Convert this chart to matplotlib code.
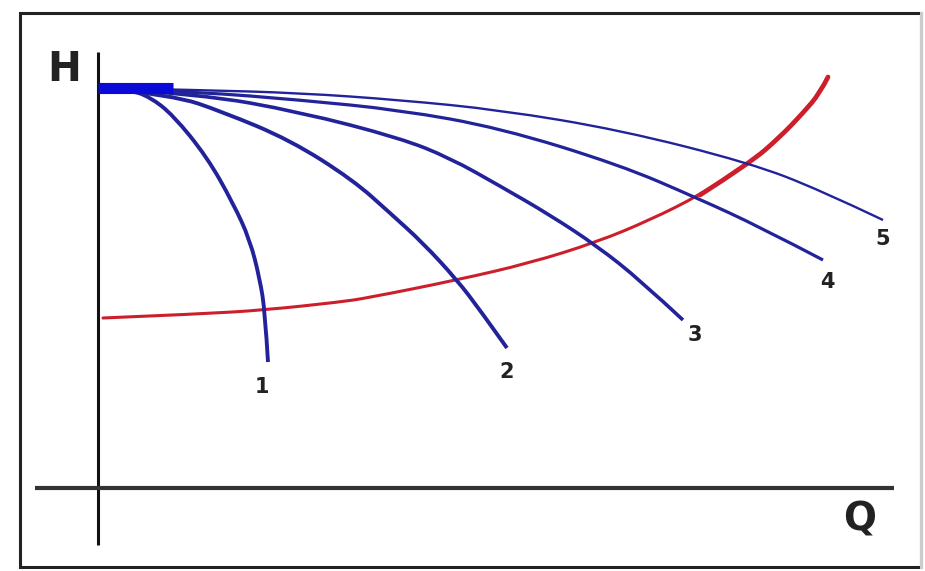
"""
Pump H-Q curves at five speeds crossing a system curve -> out.png
"""

import matplotlib
matplotlib.use("Agg")
import matplotlib.pyplot as plt
import matplotlib.patches as mpatches
from matplotlib.path import Path

BLUE = "#22229a"
BAR_BLUE = "#0a0ad8"
RED = "#cc1f2b"

# pump curves (Q, H)
Q1 = [2, 32, 52, 75, 109, 135, 152, 162, 167, 170]
H1 = [400, 398, 391, 373, 331, 285, 248, 208, 176, 126]
Q2 = [2, 75, 125, 192, 255, 292, 325, 359, 382, 409]
H2 = [400, 393, 376, 348, 308, 275, 245, 208, 178, 140]
Q3 = [2, 102, 202, 302, 352, 402, 452, 499, 542, 585]
H3 = [400, 394, 376, 350, 330, 302, 273, 242, 208, 168]
Q4 = [2, 102, 202, 302, 402, 522, 599, 662, 725]
H4 = [400, 396, 388, 378, 360, 323, 290, 261, 228]
Q5 = [2, 102, 202, 302, 402, 522, 652, 722, 785]
H5 = [400, 398, 395, 388, 378, 358, 325, 298, 268]

# system curve
Q_SYS = [5, 102, 167, 242, 269, 359, 432, 499, 552, 602, 652, 682, 705,
         722, 730]
H_SYS = [170, 174, 178, 186, 190, 208, 225, 246, 268, 293, 325, 351, 375,
         395, 411]

CURVE_LABELS = ["1", "2", "3", "4", "5"]
SHUTOFF_H = 400
SHUTOFF_Q = [0, 75]


def smooth_curve(ax, q, h, **kw):
    # quadratic bezier through the midpoints, read points as control points
    verts = [(q[0], h[0])]
    codes = [Path.MOVETO]
    for i in range(1, len(q) - 1):
        verts.append((q[i], h[i]))
        verts.append(((q[i] + q[i + 1]) / 2, (h[i] + h[i + 1]) / 2))
        codes += [Path.CURVE3, Path.CURVE3]
    verts[-1] = (q[-1], h[-1])
    ax.add_patch(mpatches.PathPatch(Path(verts, codes), fill=False, **kw))


fig = plt.figure(figsize=(9.25, 5.71), dpi=100)
ax = fig.add_axes([0, 0, 1, 1])
ax.set_xlim(-98, 827)
ax.set_ylim(-83, 488)
ax.axis("off")

# picture frame
ax.add_patch(mpatches.Rectangle((-78, -79), 901, 554, fill=False,
                                edgecolor="#222222", linewidth=2.2))
ax.plot([823, 823], [-79, 475], color="#cccccc", lw=2.2)

# axes
ax.plot([0, 0], [-57, 436], color="#111111", lw=2.2, solid_capstyle="butt")
ax.plot([-63, 796], [0, 0], color="#333333", lw=3.0, solid_capstyle="butt")
ax.text(-34, 418, "H", fontsize=29, fontweight="bold", ha="center",
        va="center", color="#222222")
ax.text(762, -31, "Q", fontsize=28, fontweight="bold", ha="center",
        va="center", color="#222222")

# system curve, heavier towards its top end
smooth_curve(ax, Q_SYS, H_SYS, edgecolor=RED, lw=2.2, capstyle="round")
smooth_curve(ax, Q_SYS[9:], H_SYS[9:], edgecolor=RED, lw=3.4,
             capstyle="round")

# pump curves
curves = [(Q1, H1, 2.8), (Q2, H2, 2.8), (Q3, H3, 2.6), (Q4, H4, 2.3),
          (Q5, H5, 1.7)]
label_shift = [(-6, -25), (0, -24), (12, -15), (4, -22), (0, -19)]
for (q, h, lw), lab, (dq, dh) in zip(curves, CURVE_LABELS, label_shift):
    smooth_curve(ax, q, h, edgecolor=BLUE, lw=lw, capstyle="butt")
    ax.text(q[-1] + dq, h[-1] + dh, lab, fontsize=15, fontweight="bold",
            ha="center", va="center", color="#222222")

ax.plot(SHUTOFF_Q, [SHUTOFF_H, SHUTOFF_H], color=BAR_BLUE, lw=8,
        solid_capstyle="butt")

fig.savefig("out.png", dpi=100, facecolor="white")
plt.close(fig)
